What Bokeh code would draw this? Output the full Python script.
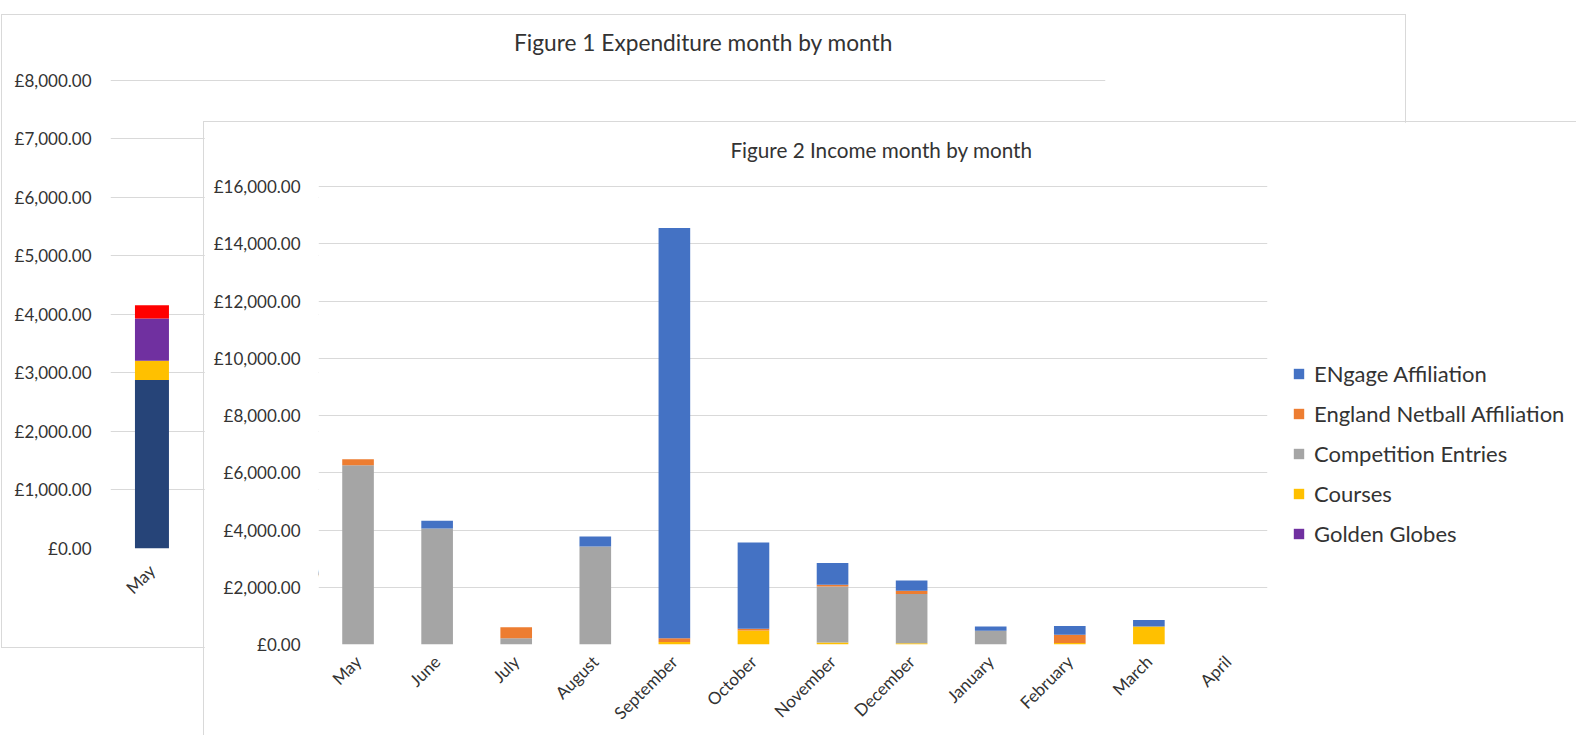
import math
from bokeh.plotting import figure
from bokeh.models import FixedTicker, Legend, LegendItem, Label, Range1d
from bokeh.embed import file_html
from bokeh.resources import INLINE

# ---------------- data ----------------
months = ["May", "June", "July", "August", "September", "October",
          "November", "December", "January", "February", "March", "April"]

# Figure 1 - Expenditure (only May is visible in the reference)
fig1_months = ["May"]
fig1_series = ["Series 1", "Series 2", "Series 3", "Series 4"]   # bottom -> top
fig1_s1 = [2880]
fig1_s2 = [330]
fig1_s3 = [720]
fig1_s4 = [230]
fig1_colors = ["#264478", "#FFC000", "#7030A0", "#FF0000"]
fig1_yticks = [0, 1000, 2000, 3000, 4000, 5000, 6000, 7000, 8000]

# Figure 2 - Income (stack order bottom -> top)
fig2_series = ["Golden Globes", "Courses", "Competition Entries",
               "England Netball Affiliation", "ENgage Affiliation"]
golden_globes = [0, 0, 0, 0, 0, 0, 0, 0, 0, 0, 0, 0]
courses = [0, 0, 0, 0, 90, 490, 70, 45, 0, 50, 630, 0]
competition = [6260, 4050, 220, 3420, 0, 0, 1960, 1715, 480, 0, 0, 0]
netball = [210, 0, 380, 0, 130, 60, 60, 120, 0, 290, 0, 0]
engage = [0, 270, 0, 350, 14330, 3010, 760, 360, 145, 310, 225, 0]
fig2_colors = ["#7030A0", "#FFC000", "#A5A5A5", "#ED7D31", "#4472C4"]
fig2_yticks = [0, 2000, 4000, 6000, 8000, 10000, 12000, 14000, 16000]

titles = ["Figure 1 Expenditure month by month", "Figure 2 Income month by month"]

FONT = "Lato"
TXT = "#333333"
GRID = "#D9D9D9"
W, H = 1576, 735


def money(v):
    return f"£{v:,.2f}"


def style(p, yticks, ystand, xstand):
    p.xgrid.grid_line_color = None
    p.ygrid.grid_line_color = GRID
    p.ygrid.grid_line_width = 1
    p.outline_line_color = None
    p.yaxis.ticker = FixedTicker(ticks=yticks)
    p.yaxis.major_label_overrides = {t: money(t) for t in yticks}
    for ax in (p.xaxis, p.yaxis):
        ax.axis_line_color = None
        ax.major_tick_line_color = None
        ax.minor_tick_line_color = None
        ax.major_tick_out = 0
        ax.major_tick_in = 0
        ax.axis_label = None
        ax.major_label_text_font = FONT
        ax.major_label_text_font_size = "17px"
        ax.major_label_text_color = TXT
    p.yaxis.major_label_standoff = ystand
    p.xaxis.major_label_standoff = xstand
    p.xaxis.major_label_orientation = math.pi / 4


# ---------------- figure 1 ----------------
p1 = figure(x_range=months, y_range=Range1d(0, 8017), width=1405, height=634,
            output_backend="svg", toolbar_location=None,
            min_border_left=108, min_border_right=302, min_border_top=64,
            min_border_bottom=101,
            background_fill_color="white", border_fill_color="white")
p1.styles = {"position": "absolute", "left": "1px", "top": "14px",
             "border": "1px solid #D9D9D9"}
src1 = {"month": fig1_months, "Series 1": fig1_s1, "Series 2": fig1_s2,
        "Series 3": fig1_s3, "Series 4": fig1_s4}
p1.vbar_stack(fig1_series, x="month", width=0.41, color=fig1_colors,
              line_color=None, source=src1)
style(p1, fig1_yticks, 19, 19)
# months other than May sit behind figure 2 in the reference
p1.xaxis.major_label_overrides = {m: "" for m in months if m not in fig1_months}

# ---------------- figure 2 ----------------
p2 = figure(x_range=months, y_range=Range1d(0, 16035), width=1373, height=614,
            output_backend="svg", toolbar_location=None,
            min_border_left=114, min_border_right=310, min_border_top=63,
            min_border_bottom=92,
            background_fill_color="white", border_fill_color="white")
p2.styles = {"position": "absolute", "left": "203px", "top": "121px",
             "border-top": "1px solid #D9D9D9", "border-left": "1px solid #D9D9D9"}
src2 = {"month": months, "Golden Globes": golden_globes, "Courses": courses,
        "Competition Entries": competition,
        "England Netball Affiliation": netball, "ENgage Affiliation": engage}
p2.vbar_stack(fig2_series, x="month", width=0.4, color=fig2_colors,
              line_color=None, source=src2)
style(p2, fig2_yticks, 18, 14)

# ---------------- transparent overlay: chart titles + legend of figure 2 ----------------
p3 = figure(x_range=months, y_range=Range1d(0, 1), width=W, height=H,
            output_backend="svg", toolbar_location=None,
            x_axis_location=None, y_axis_location=None, min_border=0,
            background_fill_alpha=0, border_fill_alpha=0)
p3.styles = {"position": "absolute", "left": "0px", "top": "0px"}
p3.outline_line_color = None
p3.grid.visible = False
swatches = {}
for name, col in zip(fig2_series, fig2_colors):
    # zero-size renderers: they only supply the legend swatch colours
    swatches[name] = p3.vbar(x=months[:1], top=[0], bottom=[0], width=0,
                             fill_color=col, line_color=None)
p3.add_layout(Label(x=703, y=H - 42, x_units="screen", y_units="screen",
                    text=titles[0], text_align="center", text_baseline="middle",
                    text_font=FONT, text_font_size="22.7px", text_color=TXT))
p3.add_layout(Label(x=881, y=H - 149, x_units="screen", y_units="screen",
                    text=titles[1], text_align="center", text_baseline="middle",
                    text_font=FONT, text_font_size="20.7px", text_color=TXT))
items = [LegendItem(label=name, renderers=[swatches[name]]) for name in fig2_series][::-1]
legend = Legend(items=items, location=(1292, H - 549), orientation="vertical",
                border_line_color=None, background_fill_alpha=0,
                padding=0, margin=0, spacing=9, label_height=31,
                glyph_height=13, glyph_width=13, label_standoff=9,
                label_text_font=FONT, label_text_font_size="22px",
                label_text_color=TXT)
p3.add_layout(legend, "center")

open("out.html", "w").write(file_html([p1, p2, p3], INLINE))
